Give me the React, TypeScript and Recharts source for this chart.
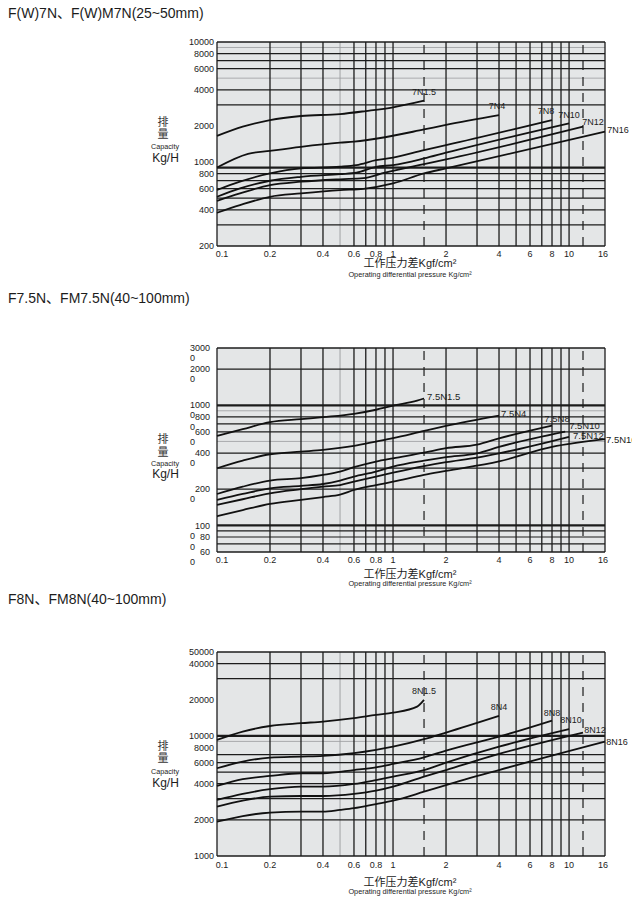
import React from "react";
import { LineChart, Line, XAxis, YAxis, ReferenceLine, CartesianGrid } from "recharts";

const FONT = "'Liberation Sans', Arial, 'Noto Sans CJK SC', sans-serif";
const PLOT_BG = "#e4e6e7";
const INK = "#1c1c1c";
const THIN = "#9a9c9e";

// shared pressure axis (Kgf/cm²)
const pressureTicks = [0.1, 0.2, 0.4, 0.6, 0.8, 1, 2, 4, 6, 8, 10, 16];
const pressureGrid = [0.2, 0.3, 0.4, 0.6, 0.7, 0.8, 0.9, 1, 2, 3, 4, 5, 6, 7, 8, 9, 10];
const pressureGridThin = [0.5];
const pressureGridDashed = [1.5, 12];
const pressureEdges = [0.1, 16];

type Series = { name: string; p: number[]; v: number[] };
type LabelPos = { dx: number; dy: number; anchor: "start" | "middle" | "end" };

// ---- F(W)7N ----
const cap7Ticks = [200, 400, 600, 800, 1000, 2000, 4000, 6000, 8000, 10000];
const cap7Grid = [300, 400, 500, 600, 700, 800, 3000, 4000, 6000, 7000, 8000];
const cap7GridThin = [5000, 9000];
const cap7GridHeavy = [900];

const s7N1_5: Series = { name: "7N1.5", p: [0.1, 0.14, 0.2, 0.3, 0.5, 0.7, 1, 1.5], v: [1650, 1970, 2240, 2420, 2510, 2660, 2860, 3250] };
const s7N4: Series = { name: "7N4", p: [0.1, 0.15, 0.2, 0.3, 0.5, 0.6, 0.9, 1.5, 2, 4], v: [900, 1170, 1240, 1340, 1450, 1480, 1610, 1870, 2040, 2460] };
const s7N8: Series = { name: "7N8", p: [0.1, 0.135, 0.2, 0.3, 0.5, 0.62, 0.8, 1, 1.5, 2, 8], v: [585, 686, 805, 886, 914, 944, 1036, 1087, 1259, 1384, 2240] };
const s7N10: Series = { name: "7N10", p: [0.1, 0.135, 0.2, 0.3, 0.5, 0.62, 0.8, 1, 1.5, 2, 10], v: [514, 604, 699, 754, 794, 815, 914, 944, 1072, 1196, 2100] };
const s7N12: Series = { name: "7N12", p: [0.1, 0.135, 0.2, 0.3, 0.5, 0.68, 0.9, 1.5, 2, 12], v: [476, 548, 643, 686, 719, 734, 815, 962, 1053, 1970] };
const s7N16: Series = { name: "7N16", p: [0.1, 0.135, 0.2, 0.3, 0.5, 0.68, 1, 1.5, 2, 16], v: [378, 438, 514, 548, 585, 599, 664, 805, 886, 1790] };
const labels7: LabelPos[] = [
  { dx: 0, dy: -9, anchor: "middle" },
  { dx: -2, dy: -9, anchor: "middle" },
  { dx: -6, dy: -9, anchor: "middle" },
  { dx: 0, dy: -9, anchor: "middle" },
  { dx: 10, dy: -5, anchor: "middle" },
  { dx: 13, dy: -2, anchor: "middle" },
];

// ---- F7.5N ----
const cap75Ticks = [600, 800, 1000, 2000, 4000, 6000, 8000, 10000, 20000, 30000];
const cap75Grid = [700, 800, 900, 2000, 3000, 4000, 6000, 7000, 8000, 20000];
const cap75GridThin = [5000, 9000];
const cap75GridHeavy = [1000, 10000];

const s75N1_5: Series = { name: "7.5N1.5", p: [0.1, 0.14, 0.2, 0.3, 0.4, 0.6, 0.8, 1, 1.37, 1.5], v: [5550, 6320, 7230, 7660, 7960, 8480, 9180, 9920, 10960, 11400] };
const s75N4: Series = { name: "7.5N4", p: [0.1, 0.14, 0.2, 0.3, 0.4, 0.6, 0.8, 1, 1.5, 2, 4], v: [2990, 3460, 3910, 4110, 4250, 4590, 4990, 5330, 6120, 6730, 8200] };
const s75N8: Series = { name: "7.5N8", p: [0.1, 0.14, 0.2, 0.3, 0.4, 0.5, 0.6, 0.8, 1, 1.5, 2, 3, 4, 8], v: [1825, 2100, 2360, 2470, 2630, 2800, 3050, 3400, 3620, 4030, 4390, 4700, 5300, 6770] };
const s75N10: Series = { name: "7.5N10", p: [0.1, 0.14, 0.2, 0.3, 0.4, 0.5, 0.6, 0.8, 1, 1.5, 2, 3, 4, 9.5], v: [1630, 1825, 2035, 2130, 2210, 2360, 2545, 2800, 3085, 3460, 3700, 3980, 4500, 6035] };
const s75N12: Series = { name: "7.5N12", p: [0.1, 0.14, 0.2, 0.3, 0.4, 0.5, 0.6, 0.8, 1, 1.5, 2, 3, 4, 10], v: [1480, 1650, 1850, 2000, 2100, 2165, 2310, 2545, 2750, 3120, 3360, 3670, 3980, 5470] };
const s75N16: Series = { name: "7.5N16", p: [0.1, 0.14, 0.2, 0.3, 0.4, 0.5, 0.6, 0.8, 1, 1.5, 2, 4, 8, 16], v: [1190, 1340, 1510, 1630, 1720, 1800, 1970, 2165, 2310, 2630, 2840, 3410, 4500, 5220] };
const labels75: LabelPos[] = [
  { dx: 3, dy: -1.5, anchor: "start" },
  { dx: 2, dy: -2, anchor: "start" },
  { dx: 5, dy: -7, anchor: "middle" },
  { dx: 4, dy: -6, anchor: "start" },
  { dx: 4, dy: -1, anchor: "start" },
  { dx: 1, dy: 0, anchor: "start" },
];

// ---- F8N ----
const cap8Ticks = [1000, 2000, 4000, 6000, 8000, 10000, 20000, 40000, 50000];
const cap8Grid = [2000, 3000, 4000, 5000, 6000, 7000, 30000, 40000];
const cap8GridThin = [9000];
const cap8GridHeavy = [10000];

const s8N1_5: Series = { name: "8N1.5", p: [0.1, 0.14, 0.2, 0.3, 0.4, 0.6, 0.8, 1, 1.37, 1.5], v: [9260, 10860, 12100, 12760, 13170, 14050, 14960, 15630, 17540, 19950] };
const s8N4: Series = { name: "8N4", p: [0.1, 0.14, 0.2, 0.3, 0.4, 0.6, 0.8, 1, 1.5, 2, 4], v: [5380, 6110, 6600, 6720, 6810, 7180, 7650, 8130, 9390, 10660, 14680] };
const s8N8: Series = { name: "8N8", p: [0.1, 0.14, 0.2, 0.3, 0.4, 0.6, 0.8, 1, 1.5, 2, 4, 8], v: [3830, 4360, 4640, 4890, 4890, 5200, 5480, 5840, 6640, 7550, 9860, 13430] };
const s8N10: Series = { name: "8N10", p: [0.1, 0.14, 0.2, 0.3, 0.4, 0.6, 0.8, 1, 1.5, 2, 4, 10], v: [2930, 3290, 3600, 3780, 3780, 3980, 4290, 4580, 5200, 5990, 8130, 11370] };
const s8N12: Series = { name: "8N12", p: [0.1, 0.14, 0.2, 0.3, 0.4, 0.6, 0.8, 1, 1.5, 2, 4, 12], v: [2580, 2890, 3120, 3160, 3160, 3290, 3500, 3780, 4580, 5200, 7080, 10660] };
const s8N16: Series = { name: "8N16", p: [0.1, 0.14, 0.2, 0.3, 0.4, 0.5, 0.6, 0.8, 1, 1.5, 2, 4, 16], v: [1930, 2150, 2300, 2340, 2340, 2420, 2500, 2710, 2890, 3430, 3900, 5200, 8960] };
const labels8: LabelPos[] = [
  { dx: 0, dy: -9, anchor: "middle" },
  { dx: 0, dy: -9, anchor: "middle" },
  { dx: 0, dy: -8, anchor: "middle" },
  { dx: 2, dy: -9, anchor: "middle" },
  { dx: 12, dy: -3, anchor: "middle" },
  { dx: 12, dy: 0, anchor: "middle" },
];

const toPoints = (s: Series) => s.p.map((p, i) => ({ p, v: s.v[i] }));

function renderEndLabel(d: any, s: Series, pos: LabelPos, size: number) {
  const key = `${s.name}-${d.index}`;
  if (d.index !== s.p.length - 1) return <g key={key} />;
  return (
    <text
      key={key}
      x={d.cx + pos.dx}
      y={d.cy + pos.dy + size * 0.36}
      textAnchor={pos.anchor}
      fontSize={size}
      fill={INK}
      stroke="none"
      fontFamily={FONT}
    >
      {s.name}
    </text>
  );
}

type ChartProps = {
  top: number;
  series: Series[];
  labels: LabelPos[];
  yDomain: [number, number];
  yTicks: number[];
  hGrid: number[];
  hThin: number[];
  hHeavy: number[];
  splitTicks?: boolean;
  xGap: number;
  labelSize: number;
};

function CapacityChart(props: ChartProps) {
  const { top, series, labels, yDomain, yTicks, hGrid, hThin, hHeavy, splitTicks, xGap, labelSize } = props;

  const xTick = (t: any) => {
    const v = t.payload.value;
    const dx = v === 0.1 ? 5 : v === 16 ? -2 : 0;
    return (
      <text x={t.x + dx} y={t.y + xGap + 3.2} textAnchor="middle" fontSize={9} fill={INK} stroke="none" fontFamily={FONT}>
        {v}
      </text>
    );
  };

  const yTick = (t: any) => {
    const s = String(t.payload.value);
    if (splitTicks) {
      // the source labels wrap their last digit onto a second line
      return (
        <g>
          <text x={t.x} y={t.y + 3.2} textAnchor="end" fontSize={9} fill={INK} stroke="none" fontFamily={FONT}>
            {s.slice(0, -1)}
          </text>
          <text x={t.x - 20} y={t.y + 13.2} textAnchor="start" fontSize={9} fill={INK} stroke="none" fontFamily={FONT}>
            {s.slice(-1)}
          </text>
        </g>
      );
    }
    return (
      <text x={t.x} y={t.y + 3.2} textAnchor="end" fontSize={9} fill={INK} stroke="none" fontFamily={FONT}>
        {s}
      </text>
    );
  };

  return (
    <div style={{ position: "absolute", left: 0, top }}>
      <LineChart width={632} height={232} margin={{ top: 12, right: 27, bottom: 0, left: 177 }}>
        <CartesianGrid fill={PLOT_BG} fillOpacity={1} horizontal={false} vertical={false} stroke="none" />
        <XAxis
          dataKey="p"
          type="number"
          scale="log"
          domain={[0.1, 16]}
          ticks={pressureTicks}
          interval={0}
          axisLine={false}
          tickLine={false}
          tickSize={0}
          tickMargin={0}
          height={16}
          tick={xTick}
        />
        <YAxis
          type="number"
          scale="log"
          domain={yDomain}
          ticks={yTicks}
          interval={0}
          axisLine={false}
          tickLine={false}
          tickSize={0}
          tickMargin={splitTicks ? 7 : 3}
          width={40}
          tick={yTick}
        />
        {hThin.map((v) => (
          <ReferenceLine key={`ht${v}`} y={v} stroke={THIN} strokeWidth={0.8} ifOverflow="visible" />
        ))}
        {pressureGridThin.map((v) => (
          <ReferenceLine key={`vt${v}`} x={v} stroke={THIN} strokeWidth={0.9} ifOverflow="visible" />
        ))}
        {hGrid.map((v) => (
          <ReferenceLine key={`h${v}`} y={v} stroke={INK} strokeWidth={1.2} ifOverflow="visible" />
        ))}
        {hHeavy.map((v) => (
          <ReferenceLine key={`hh${v}`} y={v} stroke={INK} strokeWidth={2.2} ifOverflow="visible" />
        ))}
        {yDomain.map((v) => (
          <ReferenceLine key={`he${v}`} y={v} stroke={INK} strokeWidth={1.3} ifOverflow="visible" />
        ))}
        {pressureGrid.map((v) => (
          <ReferenceLine key={`v${v}`} x={v} stroke={INK} strokeWidth={1.3} ifOverflow="visible" />
        ))}
        {pressureGridDashed.map((v) => (
          <ReferenceLine key={`vd${v}`} x={v} stroke={INK} strokeWidth={1.2} strokeDasharray="9 7" ifOverflow="visible" />
        ))}
        {pressureEdges.map((v) => (
          <ReferenceLine key={`ve${v}`} x={v} stroke={INK} strokeWidth={1.3} ifOverflow="visible" />
        ))}
        {series.map((s, i) => (
          <Line
            key={s.name}
            data={toPoints(s)}
            dataKey="v"
            type="monotone"
            stroke="#111"
            strokeWidth={1.8}
            isAnimationActive={false}
            activeDot={false}
            dot={(d: any) => renderEndLabel(d, s, labels[i], labelSize)}
          />
        ))}
      </LineChart>
    </div>
  );
}

function Texts({ title, titleY, leftY, xTitleY }: { title: string; titleY: number; leftY: number[]; xTitleY: number[] }) {
  return (
    <>
      <text x={8} y={titleY + 5} fontSize={14} fill={INK}>
        {title}
      </text>
      <text x={163} y={leftY[0] + 4} fontSize={11} textAnchor="middle" fill="#333">排</text>
      <text x={163} y={leftY[1] + 4} fontSize={11} textAnchor="middle" fill="#333">量</text>
      <text x={165} y={leftY[2] + 2.6} fontSize={7.2} textAnchor="middle" fill={INK}>Capacity</text>
      <text x={165.5} y={leftY[3] + 4.3} fontSize={12} textAnchor="middle" fill={INK}>Kg/H</text>
      <text x={410} y={xTitleY[0] + 4} fontSize={11} textAnchor="middle" fill={INK}>
        工作压力差Kgf/cm²
      </text>
      <text x={410} y={xTitleY[1] + 2.6} fontSize={7.3} textAnchor="middle" fill={INK}>
        Operating differential pressure Kg/cm²
      </text>
    </>
  );
}

export default function App() {
  return (
    <div style={{ position: "absolute", left: 0, top: 0, width: 632, height: 900, background: "#fff", overflow: "hidden" }}>
      <CapacityChart
        top={30}
        series={[s7N1_5, s7N4, s7N8, s7N10, s7N12, s7N16]}
        labels={labels7}
        yDomain={[200, 10000]}
        yTicks={cap7Ticks}
        hGrid={cap7Grid}
        hThin={cap7GridThin}
        hHeavy={cap7GridHeavy}
        xGap={7.3}
        labelSize={9}
      />
      <CapacityChart
        top={336}
        series={[s75N1_5, s75N4, s75N8, s75N10, s75N12, s75N16]}
        labels={labels75}
        yDomain={[600, 30000]}
        yTicks={cap75Ticks}
        hGrid={cap75Grid}
        hThin={cap75GridThin}
        hHeavy={cap75GridHeavy}
        splitTicks
        xGap={8}
        labelSize={9.5}
      />
      <CapacityChart
        top={640}
        series={[s8N1_5, s8N4, s8N8, s8N10, s8N12, s8N16]}
        labels={labels8}
        yDomain={[1000, 50000]}
        yTicks={cap8Ticks}
        hGrid={cap8Grid}
        hThin={cap8GridThin}
        hHeavy={cap8GridHeavy}
        xGap={9}
        labelSize={9}
      />
      <svg width={632} height={900} style={{ position: "absolute", left: 0, top: 0, pointerEvents: "none", fontFamily: FONT }}>
        <Texts title="F(W)7N、F(W)M7N(25~50mm)" titleY={13.3} leftY={[121.7, 134, 146.7, 157.3]} xTitleY={[262.5, 274]} />
        <Texts title="F7.5N、FM7.5N(40~100mm)" titleY={297.7} leftY={[439, 451.7, 463.3, 474]} xTitleY={[573.5, 583.5]} />
        <Texts title="F8N、FM8N(40~100mm)" titleY={599.3} leftY={[746, 758, 771, 782.3]} xTitleY={[881.7, 891.7]} />
      </svg>
    </div>
  );
}
